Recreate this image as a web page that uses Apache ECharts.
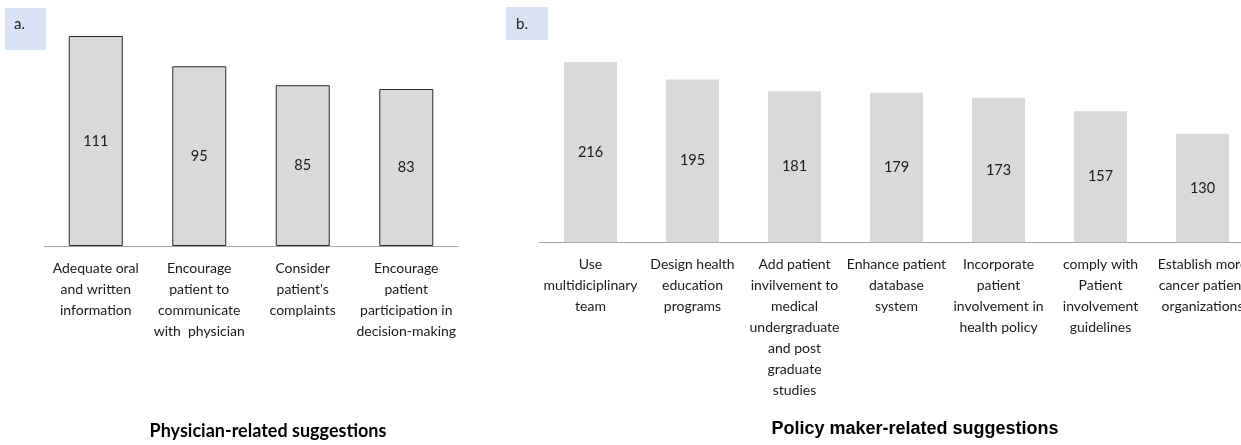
<!DOCTYPE html>
<html>
<head>
<meta charset="utf-8">
<script src="https://cdn.jsdelivr.net/npm/echarts@6/dist/echarts.min.js"></script>
<style>
  html, body { margin: 0; padding: 0; background: #fff; }
  #chart { width: 1241px; height: 445px; }
</style>
</head>
<body>
<div id="chart"></div>
<script>
// Panel a: physician-related suggestions
const physicianCategories = [
  'Adequate oral\nand written\ninformation',
  'Encourage\npatient to\ncommunicate\nwith  physician',
  'Consider\npatient\'s\ncomplaints',
  'Encourage\npatient\nparticipation in\ndecision-making'
]
const physicianValues = [111, 95, 85, 83]

// Panel b: policy maker-related suggestions
const policyCategories = [
  'Use\nmultidiciplinary\nteam',
  'Design health\neducation\nprograms',
  'Add patient\ninvilvement to\nmedical\nundergraduate\nand post\ngraduate\nstudies',
  'Enhance patient\ndatabase\nsystem',
  'Incorporate\npatient\ninvolvement in\nhealth policy',
  'comply with\nPatient\ninvolvement\nguidelines',
  'Establish more\ncancer patient\norganizations'
]
const policyValues = [216, 195, 181, 179, 173, 157, 130]

const panelTitles = ['Physician-related suggestions', 'Policy maker-related suggestions']
const panelTags = ['a.', 'b.']

const font = 'Lato, "Noto Sans", sans-serif'
const chart = echarts.init(document.getElementById('chart'))

const axisLabel = {
  interval: 0,
  color: '#1a1a1a',
  fontFamily: font,
  fontSize: 14,
  lineHeight: 21,
  margin: 12
}

const options = {
  animation: false,
  grid: [
    { left: 44, top: 19, width: 414, height: 227, outerBoundsMode: 'none' },
    { left: 539.5, top: 42, width: 714, height: 200, outerBoundsMode: 'none' }
  ],
  xAxis: [
    {
      type: 'category', gridIndex: 0, data: physicianCategories,
      axisLine: { lineStyle: { color: '#a6a6a6', width: 1 } },
      axisTick: { show: false },
      axisLabel: axisLabel
    },
    {
      type: 'category', gridIndex: 1, data: policyCategories,
      axisLine: { lineStyle: { color: '#a6a6a6', width: 1 } },
      axisTick: { show: false },
      axisLabel: axisLabel
    }
  ],
  yAxis: [
    { type: 'value', gridIndex: 0, min: 0, max: 120, show: false, splitLine: { show: false } },
    { type: 'value', gridIndex: 1, min: 0, max: 240, show: false, splitLine: { show: false } }
  ],
  series: [
    {
      type: 'bar', xAxisIndex: 0, yAxisIndex: 0,
      data: physicianValues,
      barWidth: 54,
      itemStyle: { color: '#d9d9d9', borderColor: '#2b2b2b', borderWidth: 1 },
      label: { show: true, position: 'inside', color: '#1a1a1a', fontFamily: font, fontSize: 14.5 }
    },
    {
      type: 'bar', xAxisIndex: 1, yAxisIndex: 1,
      data: policyValues,
      barWidth: 53,
      itemStyle: { color: '#d9d9d9' },
      label: { show: true, position: 'inside', color: '#1a1a1a', fontFamily: font, fontSize: 14.5 }
    }
  ],
  graphic: [
    { type: 'rect', shape: { x: 5, y: 8, width: 41, height: 42 }, style: { fill: '#dae3f3' } },
    { type: 'text', x: 14, y: 24, style: { text: panelTags[0], font: '15px ' + font, fill: '#1a1a1a', textVerticalAlign: 'middle' } },
    { type: 'rect', shape: { x: 506, y: 7, width: 42, height: 33 }, style: { fill: '#dae3f3' } },
    { type: 'text', x: 516, y: 24, style: { text: panelTags[1], font: '15px ' + font, fill: '#1a1a1a', textVerticalAlign: 'middle' } },
    { type: 'text', x: 268, y: 431, style: { text: panelTitles[0], font: 'bold 18px ' + font, fill: '#000', textAlign: 'center', textVerticalAlign: 'middle' } },
    { type: 'text', x: 915, y: 429, style: { text: panelTitles[1], font: 'bold 18px "Liberation Sans", Arial, sans-serif', fill: '#000', textAlign: 'center', textVerticalAlign: 'middle' } }
  ]
}

chart.setOption(options)
</script>
</body>
</html>
